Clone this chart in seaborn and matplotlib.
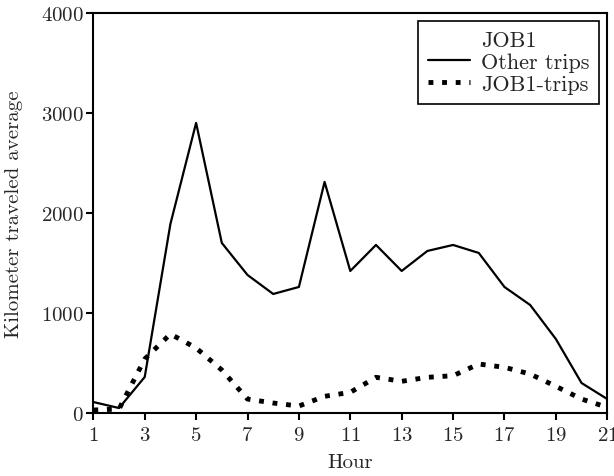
import pandas as pd
import matplotlib
matplotlib.use('Agg')
import matplotlib.pyplot as plt
import seaborn as sns

# %%
hours = list(range(1, 22))
other_trips = [110, 50, 360, 1890, 2900, 1700, 1380, 1190, 1260, 2310, 1420,
               1680, 1420, 1620, 1680, 1600, 1260, 1080, 740, 300, 140]
job1_trips = [30, 40, 540, 790, 650, 430, 140, 100, 70, 167, 207,
              357, 317, 357, 373, 490, 457, 390, 267, 140, 57]
x_ticks = list(range(1, 22, 2))
y_ticks = [0, 1000, 2000, 3000, 4000]

df = pd.DataFrame({'Hour': hours, 'Other trips': other_trips, 'JOB1-trips': job1_trips})

# %%
sns.set_style('ticks')
plt.rcParams['font.family'] = ['cmr10', 'DejaVu Serif']
plt.rcParams['axes.formatter.use_mathtext'] = True
plt.rcParams['axes.unicode_minus'] = False

fig = plt.figure(figsize=(6.14, 4.77), dpi=100)
ax = fig.add_axes([0.152, 0.132, 0.837, 0.839])

sns.lineplot(data=df, x='Hour', y='Other trips', ax=ax, color='black',
             linewidth=1.6, label='Other trips')
sns.lineplot(data=df, x='Hour', y='JOB1-trips', ax=ax, color='black',
             linewidth=3.5, linestyle=(0, (1, 1.8)), label='JOB1-trips')

ax.set_xlim(1, 21)
ax.set_ylim(0, 4000)
ax.set_xticks(x_ticks)
ax.set_yticks(y_ticks)
ax.tick_params(labelsize=15, direction='out', length=5, width=1.5, color='black', pad=2)
ax.tick_params(axis='x', pad=4)
ax.set_xlabel('Hour', fontsize=15, labelpad=7)
ax.set_ylabel('Kilometer traveled average', fontsize=15, labelpad=13)
for s in ax.spines.values():
    s.set_visible(True)
    s.set_color('black')
    s.set_linewidth(1.5)

leg = ax.legend(title='JOB1', loc='upper right', fontsize=16, title_fontsize=16,
                fancybox=False, edgecolor='black', framealpha=1, handlelength=1.9,
                borderaxespad=0.35, labelspacing=0.1, handletextpad=0.5,
                borderpad=0.45)
leg.get_frame().set_linewidth(1.2)

fig.savefig('out.png', dpi=100)
